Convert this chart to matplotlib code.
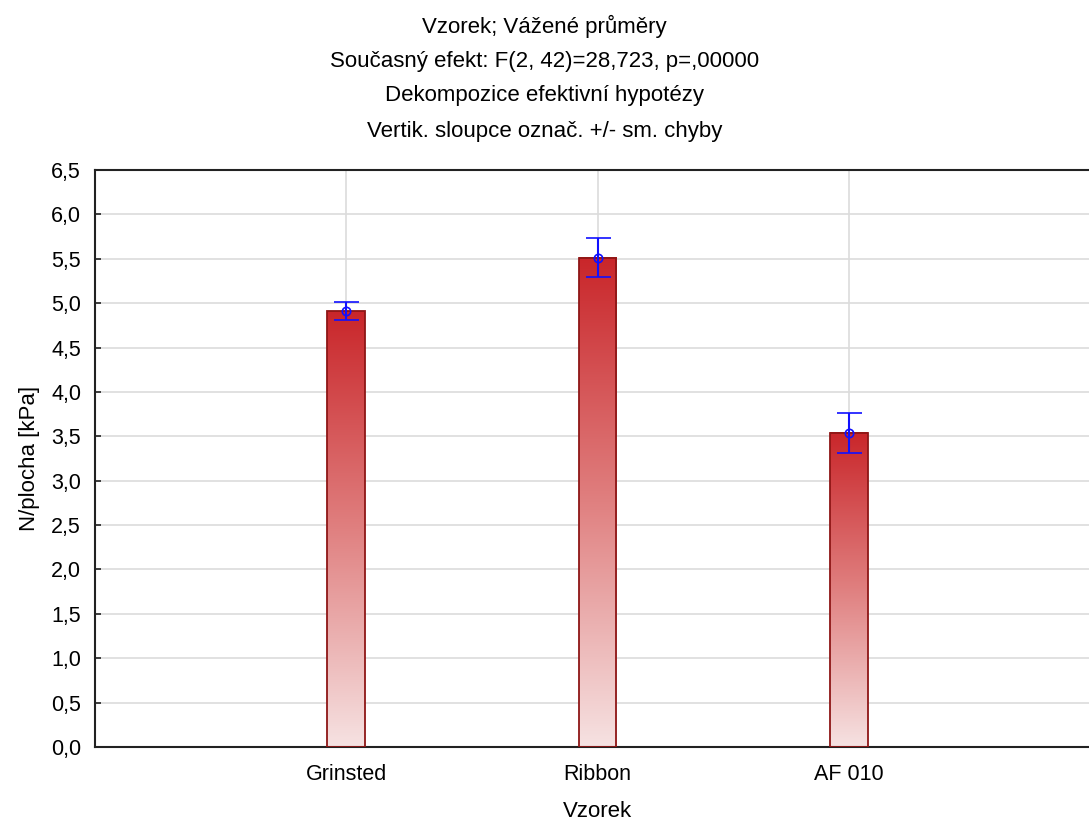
import numpy as np
import matplotlib.pyplot as plt
from matplotlib.colors import LinearSegmentedColormap

plt.rcParams['font.family'] = ['Liberation Sans', 'DejaVu Sans']

# vážené průměry a směrodatné chyby
vzorky = ['Grinsted', 'Ribbon', 'AF 010']
prumery = [4.91, 5.51, 3.54]
sm_chyby = [0.10, 0.22, 0.225]
y_ticks = [0.0, 0.5, 1.0, 1.5, 2.0, 2.5, 3.0, 3.5, 4.0, 4.5, 5.0, 5.5, 6.0, 6.5]

fig = plt.figure(figsize=(10.89, 8.25), dpi=100)
ax = fig.add_axes([95 / 1089, 78 / 825, 1005 / 1089, 577 / 825])

x = np.arange(1, len(vzorky) + 1)
sirka = 0.15

cmap = LinearSegmentedColormap.from_list('grad', ['#f6e2e2', '#e08080', '#c9262a'])
grad = np.linspace(0, 1, 256).reshape(-1, 1)

ax.set_axisbelow(True)
ax.grid(True, color='#dcdcdc', linewidth=1.2)

for xi, h in zip(x, prumery):
    ax.imshow(grad, cmap=cmap, origin='lower', aspect='auto',
              extent=[xi - sirka / 2, xi + sirka / 2, 0, h], zorder=2)
ax.bar(x, prumery, width=sirka, fill=False, edgecolor='#8e1616', linewidth=1.3, zorder=3)

ax.errorbar(x, prumery, yerr=sm_chyby, fmt='o', color='#1010ff', mfc='none',
            ms=6, mew=1.2, elinewidth=1.5, capsize=9, capthick=1.5, zorder=4)

ax.set_xlim(0, 4)
ax.set_ylim(0, 6.5)
ax.set_xticks(x)
ax.set_xticklabels(vzorky, fontsize=15.5)
ax.set_yticks(y_ticks)
ax.set_yticklabels([f'{t:.1f}'.replace('.', ',') for t in y_ticks], fontsize=15.5)
ax.tick_params(direction='in', length=4, width=1.2, color='#222222', pad=10)
ax.tick_params(axis='x', pad=12)
for s in ax.spines.values():
    s.set_color('#222222')
    s.set_linewidth(1.5)

ax.set_xlabel('Vzorek', fontsize=16, labelpad=12)
ax.set_ylabel('N/plocha [kPa]', fontsize=16, labelpad=8)

titul = ['Vzorek; Vážené průměry',
         'Současný efekt: F(2, 42)=28,723, p=,00000',
         'Dekompozice efektivní hypotézy',
         'Vertik. sloupce označ. +/- sm. chyby']
for i, t in enumerate(titul):
    fig.text(0.5, 1 - (26 + 35 * i) / 825, t, ha='center', va='center', fontsize=16)

fig.savefig('out.png', dpi=100)
